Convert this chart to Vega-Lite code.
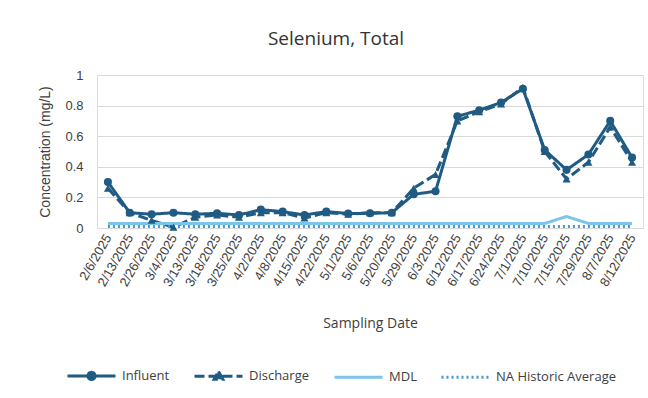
{
  "$schema": "https://vega.github.io/schema/vega-lite/v6.json",
  "width": 546,
  "height": 153,
  "autosize": {"type": "none"},
  "padding": {"left": 97, "top": 75, "right": 5, "bottom": 170},
  "background": "white",
  "title": {
    "text": "Selenium, Total",
    "font": "Open Sans",
    "fontSize": 19,
    "fontWeight": "normal",
    "color": "#333333",
    "anchor": "middle",
    "dx": -34,
    "offset": 20
  },
  "data": {
    "values": [
      {"date": "2025-02-06", "Influent": 0.30, "Discharge": 0.26, "MDL": 0.03, "NA Historic Average": 0.01},
      {"date": "2025-02-13", "Influent": 0.10, "Discharge": 0.10, "MDL": 0.03, "NA Historic Average": 0.01},
      {"date": "2025-02-26", "Influent": 0.09, "Discharge": 0.05, "MDL": 0.03, "NA Historic Average": 0.01},
      {"date": "2025-03-04", "Influent": 0.10, "Discharge": 0.005, "MDL": 0.03, "NA Historic Average": 0.01},
      {"date": "2025-03-13", "Influent": 0.09, "Discharge": 0.07, "MDL": 0.03, "NA Historic Average": 0.01},
      {"date": "2025-03-18", "Influent": 0.096, "Discharge": 0.085, "MDL": 0.03, "NA Historic Average": 0.01},
      {"date": "2025-03-25", "Influent": 0.085, "Discharge": 0.07, "MDL": 0.03, "NA Historic Average": 0.01},
      {"date": "2025-04-02", "Influent": 0.12, "Discharge": 0.10, "MDL": 0.03, "NA Historic Average": 0.01},
      {"date": "2025-04-08", "Influent": 0.107, "Discharge": 0.10, "MDL": 0.03, "NA Historic Average": 0.01},
      {"date": "2025-04-15", "Influent": 0.085, "Discharge": 0.065, "MDL": 0.03, "NA Historic Average": 0.01},
      {"date": "2025-04-22", "Influent": 0.107, "Discharge": 0.10, "MDL": 0.03, "NA Historic Average": 0.01},
      {"date": "2025-05-01", "Influent": 0.095, "Discharge": 0.09, "MDL": 0.03, "NA Historic Average": 0.01},
      {"date": "2025-05-06", "Influent": 0.096, "Discharge": 0.10, "MDL": 0.03, "NA Historic Average": 0.01},
      {"date": "2025-05-20", "Influent": 0.10, "Discharge": 0.10, "MDL": 0.03, "NA Historic Average": 0.01},
      {"date": "2025-05-29", "Influent": 0.22, "Discharge": 0.26, "MDL": 0.03, "NA Historic Average": 0.01},
      {"date": "2025-06-03", "Influent": 0.24, "Discharge": 0.35, "MDL": 0.03, "NA Historic Average": 0.01},
      {"date": "2025-06-12", "Influent": 0.73, "Discharge": 0.70, "MDL": 0.03, "NA Historic Average": 0.01},
      {"date": "2025-06-17", "Influent": 0.77, "Discharge": 0.76, "MDL": 0.03, "NA Historic Average": 0.01},
      {"date": "2025-06-24", "Influent": 0.82, "Discharge": 0.81, "MDL": 0.03, "NA Historic Average": 0.01},
      {"date": "2025-07-01", "Influent": 0.91, "Discharge": 0.92, "MDL": 0.03, "NA Historic Average": 0.01},
      {"date": "2025-07-10", "Influent": 0.51, "Discharge": 0.50, "MDL": 0.03, "NA Historic Average": 0.01},
      {"date": "2025-07-15", "Influent": 0.38, "Discharge": 0.32, "MDL": 0.075, "NA Historic Average": 0.01},
      {"date": "2025-07-29", "Influent": 0.48, "Discharge": 0.43, "MDL": 0.03, "NA Historic Average": 0.01},
      {"date": "2025-08-07", "Influent": 0.70, "Discharge": 0.66, "MDL": 0.03, "NA Historic Average": 0.01},
      {"date": "2025-08-12", "Influent": 0.46, "Discharge": 0.43, "MDL": 0.03, "NA Historic Average": 0.01}
    ]
  },
  "transform": [
    {"fold": ["Influent", "Discharge", "MDL", "NA Historic Average"], "as": ["series", "value"]}
  ],
  "encoding": {
    "x": {
      "field": "date",
      "type": "ordinal",
      "timeUnit": "utcyearmonthdate",
      "title": "Sampling Date",
      "scale": {"type": "point", "padding": 0.5},
      "axis": {
        "labelExpr": "utcFormat(datum.value, '%-m/%-d/%Y')",
        "labelAngle": -60,
        "labelOverlap": false,
        "labelFont": "Liberation Sans",
        "labelFontSize": 13,
        "labelColor": "#404040",
        "labelPadding": 7,
        "ticks": false,
        "domain": true,
        "domainColor": "#d9d9d9",
        "grid": false,
        "titleFont": "Open Sans",
        "titleFontSize": 14,
        "titleFontWeight": "normal",
        "titleColor": "#404040",
        "titlePadding": 28
      }
    },
    "y": {
      "field": "value",
      "type": "quantitative",
      "title": "Concentration (mg/L)",
      "scale": {"domain": [0, 1]},
      "axis": {
        "values": [0, 0.2, 0.4, 0.6, 0.8, 1],
        "format": "~g",
        "labelFont": "Liberation Sans",
        "labelFontSize": 13,
        "labelColor": "#404040",
        "labelPadding": 14,
        "ticks": false,
        "domain": false,
        "grid": true,
        "gridColor": "#d9d9d9",
        "gridWidth": 1,
        "titleFont": "Liberation Sans",
        "titleFontSize": 14,
        "titleFontWeight": "normal",
        "titleColor": "#404040",
        "titlePadding": 12
      }
    },
    "color": {
      "field": "series",
      "type": "nominal",
      "scale": {
        "domain": ["Influent", "Discharge", "MDL", "NA Historic Average"],
        "range": ["#1f5b82", "#1f5b82", "#7cc4ea", "#4a98cf"]
      },
      "legend": {
        "title": null,
        "orient": "none",
        "direction": "horizontal",
        "legendX": -31,
        "legendY": 275,
        "symbolSize": 2304,
        "labelFont": "Open Sans",
        "labelFontSize": 13,
        "labelColor": "#404040",
        "labelOffset": 5,
        "columnPadding": 18,
        "encode": {
          "symbols": {
            "update": {
              "shape": {"signal": "datum.value === 'Influent' ? 'M-1,0H1M-0.15,0A0.15,0.15,0,1,1,0.15,0A0.15,0.15,0,1,1,-0.15,0Z' : datum.value === 'Discharge' ? 'M-1,0H1M0,-0.2L0.18,0.13L-0.18,0.13Z' : 'M-1,0H1'"},
              "fill": {"scale": "color", "field": "value"},
              "stroke": {"scale": "color", "field": "value"},
              "strokeWidth": {"signal": "datum.value === 'NA Historic Average' ? 2 : datum.value === 'MDL' ? 2.5 : 3"},
              "strokeDash": {"signal": "datum.value === 'Discharge' ? [10, 4] : datum.value === 'NA Historic Average' ? [2, 3] : []"},
              "opacity": {"value": 1}
            }
          }
        }
      }
    }
  },
  "layer": [
    {
      "mark": {"type": "line", "strokeJoin": "round"},
      "encoding": {
        "strokeDash": {
          "field": "series",
          "type": "nominal",
          "scale": {
            "domain": ["Influent", "Discharge", "MDL", "NA Historic Average"],
            "range": [[1, 0], [10, 4], [1, 0], [2, 3]]
          },
          "legend": null
        },
        "strokeWidth": {
          "field": "series",
          "type": "nominal",
          "scale": {
            "domain": ["Influent", "Discharge", "MDL", "NA Historic Average"],
            "range": [3, 3, 2.5, 2]
          },
          "legend": null
        }
      }
    },
    {
      "transform": [{"filter": "datum.series === 'Influent' || datum.series === 'Discharge'"}],
      "mark": {"type": "point", "filled": true, "size": 65, "opacity": 1},
      "encoding": {
        "shape": {
          "field": "series",
          "type": "nominal",
          "scale": {"domain": ["Influent", "Discharge"], "range": ["circle", "triangle-up"]},
          "legend": null
        }
      }
    }
  ]
}
